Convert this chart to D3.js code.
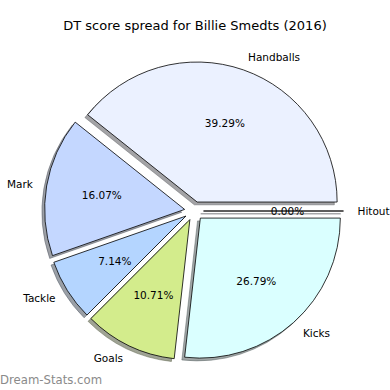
<!DOCTYPE html>
<html>
<head>
<meta charset="utf-8">
<title>DT score spread</title>
<script src="https://d3js.org/d3.v7.min.js"></script>
<style>
  body { margin: 0; background: #fff; }
  text { font-family: "DejaVu Sans", sans-serif; }
</style>
</head>
<body>
<svg id="chart"></svg>
<script>
const categories = ['Handballs', 'Mark', 'Tackle', 'Goals', 'Kicks', 'Hitout'];
const values = [22, 9, 4, 6, 15, 0];
const colors = ['#ebf1ff', '#c4d7ff', '#b4d5ff', '#d3ec8c', '#daffff', '#ebf1ff'];

const w = 390, h = 390;
const cx = 194, cy = 211;
const r = 140;
const explode = 9.5;

const svg = d3.select('#chart').attr('width', w).attr('height', h);

svg.append('text')
  .attr('x', 195).attr('y', 25)
  .attr('text-anchor', 'middle')
  .attr('dominant-baseline', 'central')
  .style('font-size', '13px')
  .text('DT score spread for Billie Smedts (2016)');

// matplotlib style: start at 3 o'clock, counter-clockwise
const pie = d3.pie().sort(null).value(d => d)
  .startAngle(Math.PI / 2).endAngle(Math.PI / 2 - 2 * Math.PI);
const arcs = pie(values);
const arc = d3.arc().innerRadius(0).outerRadius(r);
const total = d3.sum(values);

const g = svg.append('g').attr('transform', `translate(${cx},${cy})`);

function offset(d, dist) {
  const a = (d.startAngle + d.endAngle) / 2;
  return [Math.sin(a) * dist, -Math.cos(a) * dist];
}

arcs.forEach((d, i) => {
  const [ox, oy] = offset(d, explode);
  const c = d3.rgb(colors[i]);
  const sh = d3.rgb(c.r * 0.3, c.g * 0.3, c.b * 0.3);
  const wg = g.append('g').attr('transform', `translate(${ox},${oy})`);
  wg.append('path')
    .attr('d', arc(d))
    .attr('transform', 'translate(-2.8,2.8)')
    .style('fill', sh)
    .style('fill-opacity', 0.5)
    .style('stroke', sh)
    .style('stroke-opacity', 0.5)
    .style('stroke-width', 0.8);
  wg.append('path')
    .attr('d', arc(d))
    .style('fill', colors[i])
    .style('stroke', '#000')
    .style('stroke-width', 0.8)
    .style('stroke-linejoin', 'miter');
});

arcs.forEach((d, i) => {
  const a = (d.startAngle + d.endAngle) / 2;
  const [lx, ly] = offset(d, explode + r * 1.1);
  const [px, py] = offset(d, explode + r * 0.6);
  g.append('text')
    .attr('x', lx).attr('y', ly)
    .attr('text-anchor', Math.sin(a) > 0 ? 'start' : 'end')
    .attr('dominant-baseline', 'central')
    .style('font-size', '10.5px')
    .text(categories[i]);
  g.append('text')
    .attr('x', px).attr('y', py)
    .attr('text-anchor', 'middle')
    .attr('dominant-baseline', 'central')
    .style('font-size', '10.5px')
    .text((values[i] / total * 100).toFixed(2) + '%');
});

svg.append('text')
  .attr('x', 0).attr('y', 384)
  .style('font-size', '11.7px')
  .style('fill', '#8a8a8a')
  .text('Dream-Stats.com');
</script>
</body>
</html>
